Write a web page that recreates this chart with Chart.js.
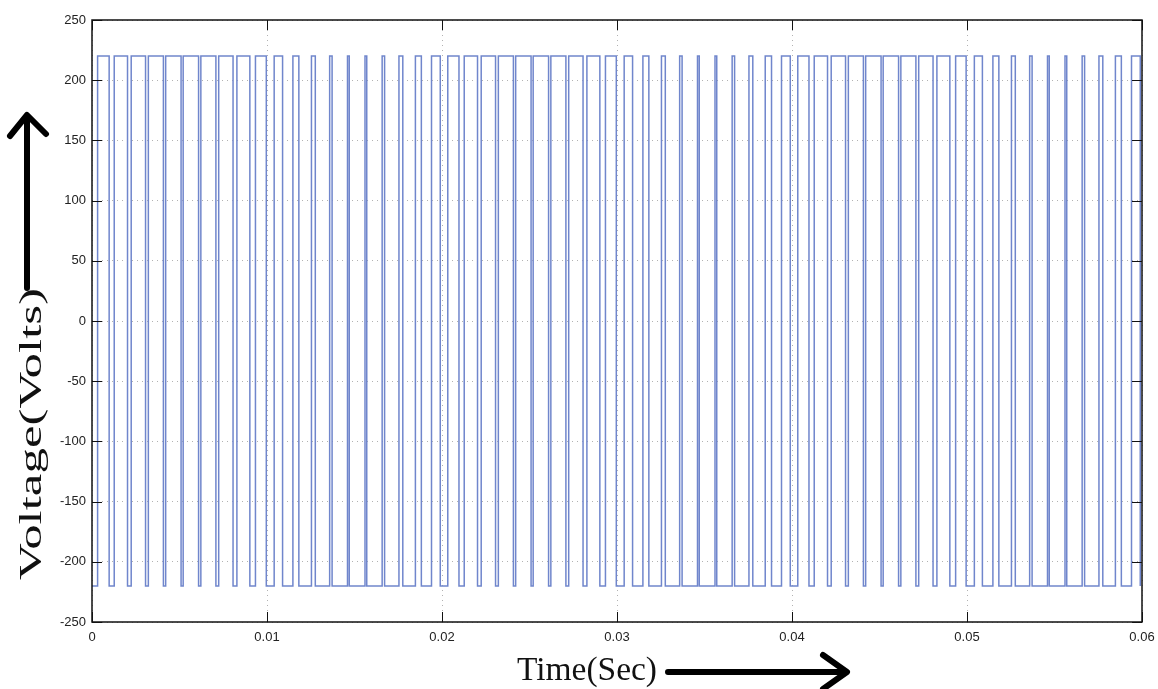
<!DOCTYPE html>
<html>
<head>
<meta charset="utf-8">
<script src="https://cdn.jsdelivr.net/npm/chart.js@4.4.1/dist/chart.umd.min.js"></script>
<style>
  html, body { margin: 0; padding: 0; background: #fff; }
  #wrap { width: 1158px; height: 689px; }
</style>
</head>
<body>
<div id="wrap"><canvas id="pwmChart"></canvas></div>
<script>
// axis ticks
const xTicks = [0, 0.01, 0.02, 0.03, 0.04, 0.05, 0.06]
const yTicks = [-250, -200, -150, -100, -50, 0, 50, 100, 150, 200, 250]

// inverter output: +/- 220 V, 1 ms switching period
const level = 220
const periodMs = 1
const pulseCentre = 0.65   // where the high pulse sits inside each period (ms)

// fraction of each 1 ms period spent at +220 V
const duty = [
  0.66, 0.76, 0.82, 0.86, 0.88, 0.88, 0.86, 0.82, 0.74, 0.62,
  0.48, 0.34, 0.22, 0.14, 0.10, 0.10, 0.14, 0.22, 0.34, 0.50,
  0.64, 0.76, 0.82, 0.86, 0.88, 0.88, 0.86, 0.82, 0.74, 0.62,
  0.48, 0.34, 0.22, 0.14, 0.10, 0.10, 0.14, 0.22, 0.36, 0.50,
  0.64, 0.76, 0.82, 0.86, 0.88, 0.88, 0.86, 0.82, 0.74, 0.60,
  0.46, 0.34, 0.22, 0.14, 0.10, 0.10, 0.14, 0.22, 0.34, 0.50
]

// build the step trace from the duty list
let points = [{x: 0, y: -level}]
duty.forEach((d, k) => {
    let rise = (k + pulseCentre - d / 2) * periodMs / 1000
    let fall = Math.min((k + pulseCentre + d / 2) * periodMs / 1000, xTicks[xTicks.length - 1])
    points.push({x: rise, y: -level}, {x: rise, y: level}, {x: fall, y: level}, {x: fall, y: -level})
})

// box, inward tick marks, hand drawn axis titles and arrows
const decorations = {
    id: 'decorations',
    afterDraw(chart) {
        const ctx = chart.ctx
        const a = chart.chartArea
        const xs = chart.scales.x
        const ys = chart.scales.y
        ctx.save()
        ctx.setLineDash([])
        ctx.strokeStyle = '#111'
        ctx.lineWidth = 1.5
        ctx.strokeRect(a.left, a.top, a.right - a.left, a.bottom - a.top)
        ctx.lineWidth = 1
        ctx.beginPath()
        xTicks.forEach(v => {
            let px = Math.round(xs.getPixelForValue(v)) + 0.5
            ctx.moveTo(px, a.bottom); ctx.lineTo(px, a.bottom - 10)
            ctx.moveTo(px, a.top); ctx.lineTo(px, a.top + 10)
        })
        yTicks.forEach(v => {
            let py = Math.round(ys.getPixelForValue(v)) + 0.5
            ctx.moveTo(a.left, py); ctx.lineTo(a.left + 10, py)
            ctx.moveTo(a.right, py); ctx.lineTo(a.right - 10, py)
        })
        ctx.stroke()

        // axis titles
        ctx.fillStyle = '#111'
        ctx.font = '33px "Liberation Serif", "Times New Roman", serif'
        ctx.textBaseline = 'alphabetic'
        let tw = ctx.measureText('Time(Sec)').width
        ctx.save()
        ctx.translate(517, 680)
        ctx.scale(140 / tw, 1)
        ctx.fillText('Time(Sec)', 0, 0)
        ctx.restore()

        let vw = ctx.measureText('Voltage(Volts)').width
        ctx.save()
        ctx.translate(41, 580)
        ctx.rotate(-Math.PI / 2)
        ctx.scale(292 / vw, 0.95)
        ctx.fillText('Voltage(Volts)', 0, 0)
        ctx.restore()

        // arrows
        ctx.strokeStyle = '#000'
        ctx.lineWidth = 6
        ctx.lineCap = 'round'
        ctx.lineJoin = 'round'
        ctx.beginPath()
        ctx.moveTo(27, 288); ctx.lineTo(27, 116)
        ctx.moveTo(10, 136); ctx.lineTo(27, 115); ctx.lineTo(46, 134)
        ctx.moveTo(668, 672); ctx.lineTo(845, 672)
        ctx.moveTo(823, 655); ctx.lineTo(847, 672); ctx.lineTo(823, 689)
        ctx.stroke()
        ctx.restore()
    }
}

new Chart('pwmChart', {
    type: 'line',
    data: {
        datasets: [{
            data: points,
            borderColor: '#7086cc',
            borderWidth: 1.5,
            pointRadius: 0,
            tension: 0,
            fill: false
        }]
    },
    plugins: [decorations],
    options: {
        responsive: true,
        maintainAspectRatio: false,
        animation: false,
        layout: { padding: { top: 20, right: 16, left: 0, bottom: 0 } },
        plugins: {
            legend: { display: false },
            tooltip: { enabled: false }
        },
        scales: {
            x: {
                type: 'linear',
                min: 0,
                max: 0.06,
                afterBuildTicks: s => { s.ticks = xTicks.map(v => ({value: v})) },
                afterFit: s => { s.height = 67; s.paddingLeft = 0; s.paddingRight = 0 },
                ticks: {
                    padding: 8,
                    color: '#222',
                    font: { family: '"Liberation Sans", Arial, sans-serif', size: 13 },
                    callback: v => v === 0 ? '0' : v.toFixed(2)
                },
                grid: { color: 'rgba(0,0,0,0.3)', lineWidth: 1, drawTicks: false },
                border: { display: false, dash: [1, 4] }
            },
            y: {
                type: 'linear',
                min: -250,
                max: 250,
                afterBuildTicks: s => { s.ticks = yTicks.map(v => ({value: v})) },
                afterFit: s => { s.width = 92; s.paddingTop = 0; s.paddingBottom = 0 },
                ticks: {
                    padding: 6,
                    color: '#222',
                    font: { family: '"Liberation Sans", Arial, sans-serif', size: 13 }
                },
                grid: { color: 'rgba(0,0,0,0.3)', lineWidth: 1, drawTicks: false },
                border: { display: false, dash: [1, 4] }
            }
        }
    }
})
</script>
</body>
</html>
